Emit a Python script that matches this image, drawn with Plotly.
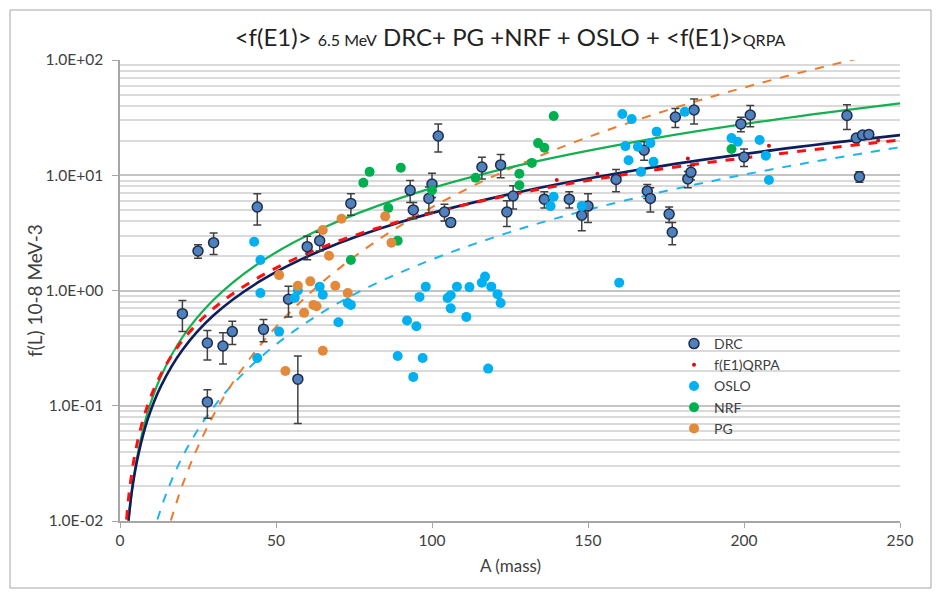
import plotly.graph_objects as go

# ---------------- data ----------------
drc_A = [20, 25, 30, 28, 28, 33, 36, 46, 44, 54, 57, 60, 64, 74, 93, 94, 99, 100, 102, 104, 106,
         116, 122, 124, 126, 136, 144, 148, 150, 159, 168, 169, 170, 176, 177, 178, 182, 183, 184,
         199, 200, 202, 233, 236, 238, 240, 237]
drc_f = [0.63, 2.2, 2.6, 0.35, 0.108, 0.33, 0.44, 0.46, 5.3, 0.84, 0.17, 2.4, 2.7, 5.7, 7.4, 5.0, 6.3, 8.4, 21.9, 4.8, 3.9,
         11.8, 12.3, 4.8, 6.6, 6.2, 6.2, 4.5, 5.4, 9.2, 16.5, 7.3, 6.3, 4.6, 3.2, 32, 9.3, 10.6, 36.8,
         27.9, 14.4, 33.3, 33, 21, 22.3, 22.6, 9.7]
drc_err = [0.19, 0.3, 0.55, 0.1, 0.03, 0.1, 0.1, 0.1, 1.6, 0.25, 0.1, 0.55, 0.5, 1.2, 1.6, 0.8, 1.6, 2.0, 6.0, 0.8, 0.3,
           2.5, 2.8, 1.2, 1.5, 1.0, 1.0, 1.2, 1.5, 2.0, 3.0, 1.0, 1.5, 0.7, 0.7, 6.0, 1.5, 1.5, 9.0,
           4.0, 2.5, 7.0, 8.0, 1.0, 1.0, 1.0, 1.0]

qrpa_A = [140, 153, 182, 208, 243]
qrpa_f = [9.1, 10.3, 14.0, 18.0, 20.0]

oslo_A = [43, 45, 45, 51, 44, 56, 57, 64, 65, 70, 73, 74, 92, 95, 89, 97, 94, 96, 98, 105, 106, 106,
          108, 111, 112, 116, 117, 119, 121, 122, 118, 160, 161, 164, 162, 163, 166, 172, 171, 167,
          139, 138, 148, 170, 181, 196, 198, 205, 207, 208]
oslo_f = [2.65, 1.84, 0.95, 0.44, 0.26, 0.86, 1.0, 1.08, 0.92, 0.53, 0.78, 0.75, 0.55, 0.49, 0.27, 0.26, 0.178, 0.88, 1.08, 0.86, 0.91, 0.70,
          1.08, 0.59, 1.07, 1.17, 1.32, 1.08, 0.93, 0.78, 0.21, 1.17, 34, 30.7, 17.9, 13.5, 17.7, 23.9, 13.1, 10.7,
          6.5, 5.4, 5.4, 19, 35.5, 21, 19.5, 20.2, 14.8, 9.1]

nrf_A = [78, 80, 90, 86, 89, 74, 100, 114, 128, 128, 132, 134, 136, 139, 196]
nrf_f = [8.6, 10.7, 11.6, 5.2, 2.7, 1.84, 7.4, 9.5, 10.3, 8.2, 12.8, 19.0, 17.3, 32.7, 16.9]

pg_A = [65, 71, 67, 51, 57, 61, 69, 73, 62, 63, 59, 65, 53, 85, 87]
pg_f = [3.35, 4.2, 2.0, 1.36, 1.1, 1.2, 1.1, 0.95, 0.75, 0.73, 0.64, 0.30, 0.20, 4.4, 2.6]

# trend curves
drcfit_A = [2.7, 4, 6, 9, 13, 20, 30, 45, 65, 90, 125, 170, 210, 250]
drcfit_f = [0.0101, 0.0198, 0.039, 0.078, 0.146, 0.305, 0.61, 1.21, 2.26, 3.93, 6.86, 11.6, 16.6, 22.3]

qrpafit_A = [2.1, 3, 5, 8, 12, 18, 27, 40, 60, 90, 130, 180, 250]
qrpafit_f = [0.0103, 0.0181, 0.0407, 0.0858, 0.163, 0.311, 0.592, 1.10, 2.10, 4.0, 7.17, 12.0, 20.2]

nrffit_A = [2.75, 4, 6, 9, 13, 20, 30, 45, 65, 90, 125, 170, 210, 250]
nrffit_f = [0.010, 0.020, 0.042, 0.090, 0.177, 0.393, 0.83, 1.76, 3.48, 6.36, 11.7, 20.6, 30.4, 42]

pgfit_A = [16.3, 20, 25, 32, 40, 50, 65, 85, 110, 140, 175, 205, 234.5, 240]
pgfit_f = [0.0101, 0.0205, 0.0442, 0.104, 0.224, 0.483, 1.19, 3.02, 7.33, 16.9, 36.4, 62.8, 100, 108]

oslofit_A = [12, 15, 20, 27, 36, 50, 70, 95, 130, 170, 210, 250]
oslofit_f = [0.0103, 0.0178, 0.036, 0.075, 0.152, 0.34, 0.78, 1.64, 3.54, 6.8, 11.4, 17.5]

y_tickvals = [0.01, 0.1, 1, 10, 100]
y_ticktext = ["1.0E-02", "1.0E-01", "1.0E+00", "1.0E+01", "1.0E+02"]
x_tickvals = [0, 50, 100, 150, 200, 250]

FONT = "Lato"
# page has an 8px body margin, so target pixel positions are shifted by -8
L, T, PW, PH = 112, 52, 780, 461
fig = go.Figure()

def curve(xs, ys, color, width, dash):
    fig.add_trace(go.Scatter(x=xs, y=ys, mode="lines", showlegend=False, hoverinfo="skip",
                             line=dict(color=color, width=width, dash=dash, shape="spline", smoothing=1.0)))

curve(oslofit_A, oslofit_f, "#1FB4EE", 2, "dash")
curve(pgfit_A, pgfit_f, "#EE7B2C", 2, "dash")
curve(nrffit_A, nrffit_f, "#12B050", 2.2, "solid")
curve(drcfit_A, drcfit_f, "#0C1E5E", 2.6, "solid")
curve(qrpafit_A, qrpafit_f, "#FF1010", 3, "dash")

fig.add_trace(go.Scatter(x=drc_A, y=drc_f, mode="markers", name="DRC",
                         marker=dict(size=10, color="#4F81BD", line=dict(color="#1F2D4D", width=1.5)),
                         error_y=dict(type="data", array=drc_err, color="#404040", thickness=1.5, width=4)))
fig.add_trace(go.Scatter(x=qrpa_A, y=qrpa_f, mode="markers", name="f(E1)QRPA",
                         marker=dict(size=4, color="#D01010")))
fig.add_trace(go.Scatter(x=oslo_A, y=oslo_f, mode="markers", name="OSLO",
                         marker=dict(size=10, color="#00B0F0")))
fig.add_trace(go.Scatter(x=nrf_A, y=nrf_f, mode="markers", name="NRF",
                         marker=dict(size=10, color="#00B050")))
fig.add_trace(go.Scatter(x=pg_A, y=pg_f, mode="markers", name="PG",
                         marker=dict(size=10, color="#E3893B")))

def px_x(p):  # target page pixel -> paper x
    return (p - 8 - L) / PW

def px_y(p):  # target page pixel -> paper y
    return (T + PH - (p - 8)) / PH

fig.update_layout(
    width=942, height=599,
    margin=dict(l=L, r=942 - L - PW, t=T, b=599 - T - PH),
    paper_bgcolor="white", plot_bgcolor="white",
    font=dict(family=FONT, size=15, color="#404040"),
    showlegend=True,
    legend=dict(x=px_x(674), y=px_y(328), xanchor="left", yanchor="top", bgcolor="rgba(255,255,255,0)",
                font=dict(family=FONT, size=14, color="#404040"), tracegroupgap=0),
    title=dict(text="&lt;f(E1)&gt; <span style='font-size:16px'>6.5 MeV</span> DRC+ PG +NRF + OSLO + &lt;f(E1)&gt;<span style='font-size:16px'>QRPA</span>",
               x=0.5, xref="paper", xanchor="center", y=1 - (38 - 8) / 599, yanchor="middle",
               font=dict(family=FONT, size=24, color="#222222")),
    xaxis=dict(range=[0, 250], tickvals=x_tickvals, ticks="outside", ticklen=5, tickcolor="#A6A6A6",
               showline=True, linecolor="#A6A6A6", linewidth=1.5, showgrid=False, zeroline=False,
               tickfont=dict(family=FONT, size=15.5, color="#404040")),
    yaxis=dict(type="log", range=[-2, 2], tickvals=y_tickvals, ticktext=y_ticktext, ticks="outside",
               ticklen=6, tickcolor="#A6A6A6", showline=True, linecolor="#A6A6A6", linewidth=1.5,
               showgrid=True, gridcolor="#C4C4C4", gridwidth=2, zeroline=False,
               ticklabelstandoff=6,
               tickfont=dict(family=FONT, size=15.5, color="#404040"),
               minor=dict(tickvals=[m * 10 ** e for e in range(-2, 2) for m in range(2, 10)],
                          showgrid=True, gridcolor="#DADADA", gridwidth=1.6, ticks="")),
    annotations=[
        dict(text="f(L) 10-8 MeV-3", xref="paper", yref="paper", x=px_x(34), y=px_y(291),
             textangle=-90, showarrow=False, xanchor="center", yanchor="middle",
             font=dict(family=FONT, size=19, color="#404040")),
        dict(text="A (mass)", xref="paper", yref="paper", x=px_x(510), y=px_y(565),
             showarrow=False, xanchor="center", yanchor="middle",
             font=dict(family=FONT, size=17, color="#404040")),
    ],
    shapes=[dict(type="rect", xref="paper", yref="paper",
                 x0=px_x(10), x1=px_x(931), y0=px_y(588), y1=px_y(10),
                 line=dict(color="#A6A6A6", width=1), fillcolor="rgba(0,0,0,0)", layer="below")],
)

fig.write_html("out.html")
